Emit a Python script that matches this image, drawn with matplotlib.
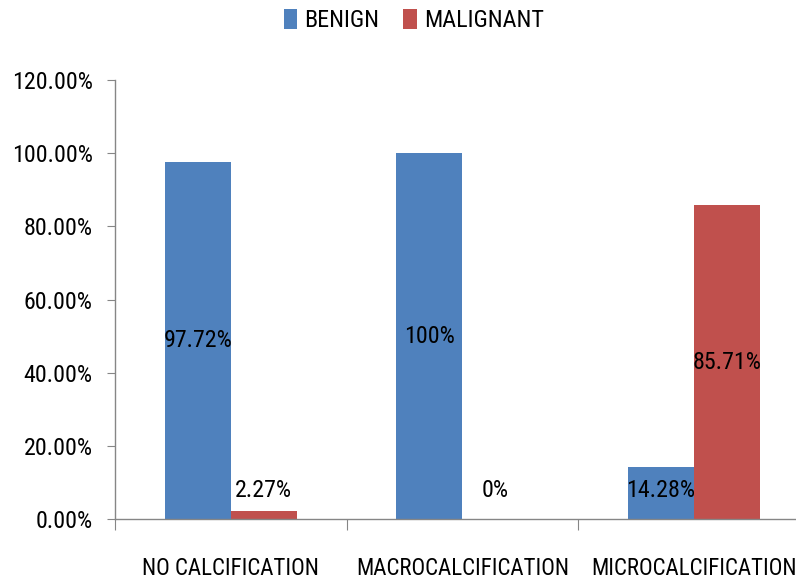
import matplotlib
matplotlib.use("Agg")
import matplotlib.pyplot as plt
import numpy as np
from matplotlib import font_manager

categories = ["NO CALCIFICATION", "MACROCALCIFICATION", "MICROCALCIFICATION"]
benign = [97.72, 100.0, 14.28]
malignant = [2.27, 0.0, 85.71]
benign_labels = ["97.72%", "100%", "14.28%"]
malignant_labels = ["2.27%", "0%", "85.71%"]
series_names = ["BENIGN", "MALIGNANT"]
yticks = [0, 20, 40, 60, 80, 100, 120]

# Prefer a narrow face; fall back to DejaVu Sans Condensed, then Liberation Sans
fonts = font_manager.fontManager.ttflist
names = {f.name for f in fonts}
stretch = "normal"
family = "Liberation Sans"
fs, fs_cat = 15, 14
for cand in ["Roboto Condensed", "Liberation Sans Narrow", "Open Sans Condensed"]:
    if cand in names:
        family, fs, fs_cat = cand, 17.3, 16.5
        break
else:
    if any(f.name == "DejaVu Sans" and str(f.stretch) in ("condensed", "semi-condensed")
           for f in fonts):
        family, stretch = "DejaVu Sans", "condensed"
plt.rcParams["font.family"] = [family, "DejaVu Sans"]
plt.rcParams["font.stretch"] = stretch

blue = "#4F81BD"
red = "#C0504D"
axis_grey = "#868686"

fig = plt.figure(figsize=(7.96, 5.81), dpi=100)
ax = fig.add_axes([0.1445, 0.1067, 0.8725, 0.7556])

x = np.arange(len(categories)) + 0.5
w = 0.285
b1 = ax.bar(x - w / 2, benign, w, color=blue, label=series_names[0])
b2 = ax.bar(x + w / 2, malignant, w, color=red, label=series_names[1])

for xi, v, lab in zip(x - w / 2, benign, benign_labels):
    ax.text(xi, max(v / 2, 7.8), lab, ha="center", va="center", fontsize=fs)
for xi, v, lab in zip(x + w / 2, malignant, malignant_labels):
    ax.text(xi, max(v / 2, 7.8), lab, ha="center", va="center", fontsize=fs)

ax.set_xlim(0, 3)
ax.set_ylim(0, 120)
ax.set_yticks(yticks)
ax.set_yticklabels([f"{t:.2f}%" for t in yticks], fontsize=fs)
ax.set_xticks([0, 1, 2, 3])
ax.set_xticklabels([])
ax.set_xticks(x, minor=True)
ax.set_xticklabels(categories, minor=True, fontsize=fs_cat)
ax.tick_params(axis="x", which="minor", length=0, pad=27)
ax.tick_params(axis="x", which="major", length=8, color=axis_grey, direction="out")
ax.tick_params(axis="y", length=6, color=axis_grey, pad=10)

for s in ["top", "right"]:
    ax.spines[s].set_visible(False)
for s in ["left", "bottom"]:
    ax.spines[s].set_color(axis_grey)
    ax.spines[s].set_linewidth(1.0)

fig.legend(handles=[b1, b2], labels=series_names, loc="center",
           bbox_to_anchor=(0.52, 0.965), ncol=2, frameon=False,
           fontsize=fs, handlelength=0.55, handleheight=0.9,
           handletextpad=0.3, columnspacing=1.0)

fig.savefig("out.png", dpi=100)
